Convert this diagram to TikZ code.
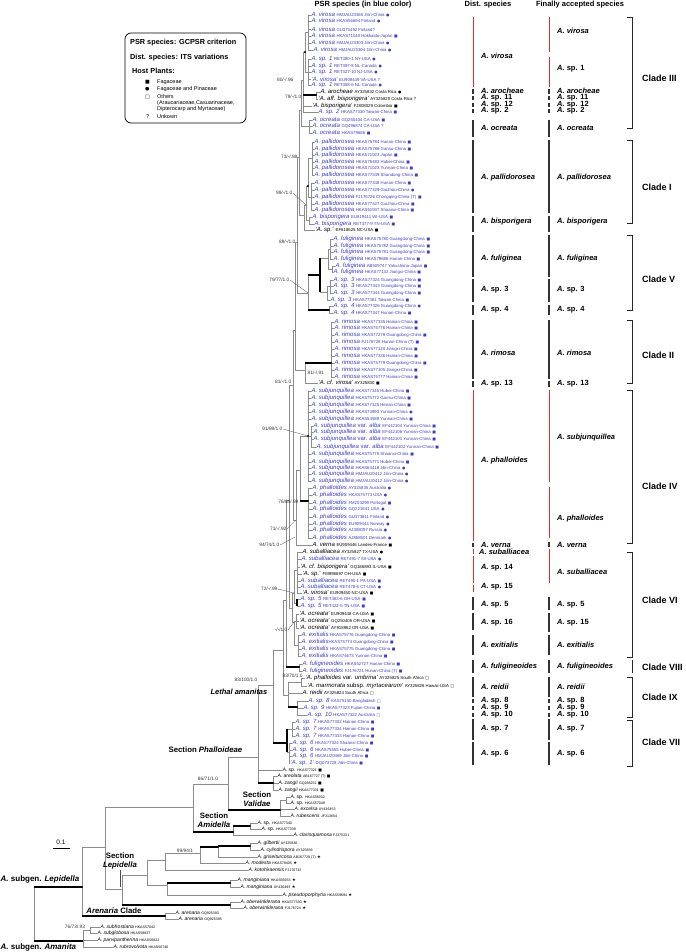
\documentclass[tikz,border=0pt]{standalone}
\usepackage{fontspec}
\setmainfont{Liberation Sans}
\newfontfamily\symf{DejaVu Sans}
\usetikzlibrary{positioning}
\definecolor{psrblue}{HTML}{3C3CC8}
\definecolor{branchgray}{HTML}{8C8C8C}
\definecolor{barred}{HTML}{E0302B}
\definecolor{bardark}{HTML}{333333}
\newcommand{\acc}[1]{{\fontsize{4.3}{4.3}\selectfont\upshape #1}}
\newcommand{\accs}[1]{{\fontsize{3.6}{3.6}\selectfont\upshape #1}}
\newcommand{\mfag}{{\symf\upshape\fontsize{3.8}{3.8}\selectfont ■}}
\newcommand{\mpin}{{\symf\upshape\fontsize{3.8}{3.8}\selectfont ●}}
\newcommand{\moth}{{\symf\upshape\fontsize{3.8}{3.8}\selectfont □}}
\newcommand{\mstar}{{\symf\upshape\fontsize{4.2}{4.2}\selectfont ★}}
\newcommand{\lmark}[1]{{\symf\fontsize{5}{5}\selectfont #1}}

\begin{document}
\begin{tikzpicture}[x=1pt, y=-1pt,
    br/.style={draw=branchgray, line width=0.5pt},
    tk/.style={draw=black, line width=1.5pt},
    ld/.style={draw=black!70, line width=0.3pt},
    tipb/.style={anchor=west, inner sep=0.3pt, text=psrblue, font=\fontsize{6}{6}\selectfont\itshape},
    tipk/.style={tipb, text=black},
    tipl/.style={anchor=west, inner sep=0.3pt, text=black, font=\fontsize{5}{5}\selectfont\itshape},
    bs/.style={inner sep=0.4pt, text=black!80, font=\fontsize{4.8}{4.8}\selectfont},
    sec/.style={inner sep=0.5pt, align=center, font=\fontsize{7.8}{8.5}\selectfont\bfseries},
    hdr/.style={inner sep=0pt, font=\fontsize{7.5}{7.5}\selectfont\bfseries},
    colk/.style={anchor=west, inner sep=0pt, font=\fontsize{7.5}{7.5}\selectfont\bfseries\itshape},
    clade/.style={anchor=west, inner sep=0pt, font=\fontsize{9}{9}\selectfont\bfseries},
    rbar/.style={draw=barred, line width=1pt},
    kbar/.style={draw=bardark, line width=1.1pt},
    brk/.style={draw=black!85, line width=0.9pt},
    legbox/.style={draw, line width=0.7pt, rounded corners=6pt, minimum width=121pt, minimum height=90pt},
    leg/.style={anchor=west, inner sep=0pt, font=\fontsize{5.5}{6}\selectfont},
    legh/.style={anchor=west, inner sep=0pt, font=\fontsize{7.3}{7.3}\selectfont\bfseries}
  ]
    \useasboundingbox (0,0) rectangle (685,952);

    % headers and legend
    \node[hdr] (hPSR) at (363,5) {PSR species (in blue color)};
    \node[hdr] (hDist) at (488,5) {Dist. species};
    \node[hdr] (hFin) at (580,5) {Finally accepted species};

    \node[legbox] (leg) at (185.5,78) {};
    \node[legh] (lh1) at (130,43) {PSR species: GCPSR criterion};
    \node[legh] (lh2) at (130,58) {Dist. species: ITS variations};
    \node[legh] (lh3) at (132,71) {Host Plants:};
    \node[leg] (lm1) at (145,82) {\lmark{■}};
    \node[leg] (lt1) at (157,82) {Fagaceae};
    \node[leg] (lm2) at (145,89) {\lmark{●}};
    \node[leg] (lt2) at (157,89) {Fagaceae and Pinaceae};
    \node[leg] (lm3) at (145,97) {\lmark{□}};
    \node[leg, align=left, anchor=north west] (lt3) at (157,94.5) {Others\\(Araucariaceae,Casuarinaceae,\\Dipterocarp and Myrtaceae)};
    \node[leg] (lm4) at (146,117) {?};
    \node[leg] (lt4) at (157,117) {Unkown};

    % tips: Clade III
    \node[tipb] (v1) at (311,15) {A. virosa \acc{HMJAU23365 Jilin-China} \mpin};
    \node[tipb] (v2) at (311,21) {A. virosa \acc{HKAS56694 Finland} \mpin};
    \node[tipb] (v3) at (311,29) {A. virosa \acc{GU373492 Finland?}};
    \node[tipb] (v4) at (311,36) {A. virosa \acc{HKAS71040 Hokkaido-Japan} \mfag};
    \node[tipb] (v5) at (311,43) {A. virosa \acc{HMJAU23303 Jilin-China} \mpin};
    \node[tipb] (v6) at (313,50) {A. virosa \acc{HMJAU23304 Jilin-China} \mpin};
    \node[tipb] (s1a) at (311,59) {A. sp. 1 \acc{RET480-1 NY-USA} \mpin};
    \node[tipb] (s1b) at (311,66) {A. sp. 1 \acc{RET397-8 NL-Canada} \mpin};
    \node[tipb] (s1c) at (311,72) {A. sp. 1 \acc{RET327-10 NJ-USA} \mpin};
    \node[tipb] (s1d) at (311,79) {‘A. virosa’ \acc{EU909449 VA-USA ?}};
    \node[tipb] (s1e) at (311,85) {A. sp. 1 \acc{RET368-6 NL-Canada} \mpin};
    \node[tipk] (aro) at (320,92) {A. arocheae \acc{AY325832 Costa Rica} \mpin};
    \node[tipk] (affb) at (318,99) {‘A. aff. bisporigera’ \acc{AY325820 Costa Rica ?}};
    \node[tipk] (bisq) at (312,106) {‘A. bisporigera’ \acc{FJ808029 Colombia} \mfag};
    \node[tipb] (sp2) at (318,112) {A. sp. 2 \acc{HKAS77330 Taiwan-China} \mfag};
    \node[tipb] (oc1) at (312,120) {A. ocreata \acc{GQ250404 CA-USA} \mfag};
    \node[tipb] (oc2) at (312,126) {A. ocreata \acc{GQ496874 CA-USA ?}};
    \node[tipb] (oc3) at (312,133) {A. ocreata \acc{HKAS79686} \mfag};

    % tips: Clade I
    \node[tipb] (pa1) at (314,142) {A. pallidorosea \acc{HKAS75784 Hunan-China} \mfag};
    \node[tipb] (pa2) at (314,149) {A. pallidorosea \acc{HKAS75786 Gansu-China} \mfag};
    \node[tipb] (pa3) at (314,155) {A. pallidorosea \acc{HKAS71023 Japan} \mfag};
    \node[tipb] (pa4) at (314,162) {A. pallidorosea \acc{HKAS75483 Hubei-China} \mfag};
    \node[tipb] (pa5) at (314,168) {A. pallidorosea \acc{HKAS71023 Yunnan-China} \mfag};
    \node[tipb] (pa6) at (314,175) {A. pallidorosea \acc{HKAS77349 Shandong-China} \mfag};
    \node[tipb] (pa7) at (314,183) {A. pallidorosea \acc{HKAS77348 Hunan-China} \mfag};
    \node[tipb] (pa8) at (314,190) {A. pallidorosea \acc{HKAS77329 Guizhou-China} \mpin};
    \node[tipb] (pa9) at (314,197) {A. pallidorosea \acc{FJ176726 Chongqing-China (T)} \mfag};
    \node[tipb] (pa10) at (314,204) {A. pallidorosea \acc{HKAS77327 Guizhou-China} \mfag};
    \node[tipb] (pa11) at (314,210) {A. pallidorosea \acc{HKAS61937 Shaanxi-China} \mfag};
    \node[tipb] (bi1) at (312,217) {A. bisporigera \acc{EU819411 WI-USA} \mfag};
    \node[tipb] (bi2) at (314,224) {A. bisporigera \acc{RET377-9 TN-USA} \mfag};
    \node[tipk] (spq) at (315,230) {‘A. sp.’ \acc{EF618625 NC-USA} \mfag};

    % tips: Clade V
    \node[tipb] (f1) at (333,239) {A. fuliginea \acc{HKAS75780 Guangdong-China} \mfag};
    \node[tipb] (f2) at (333,246) {A. fuliginea \acc{HKAS75782 Guangdong-China} \mfag};
    \node[tipb] (f3) at (333,252) {A. fuliginea \acc{HKAS75781 Guangdong-China} \mfag};
    \node[tipb] (f4) at (333,259) {A. fuliginea \acc{HKAS79686 Hunan-China} \mfag};
    \node[tipb] (f5) at (335,266) {A. fuliginea \acc{AB509747 Yakushima-Japan} \mfag};
    \node[tipb] (f6) at (333,272) {A. fuliginea \acc{HKAS77132 Jiangxi-China} \mfag};
    \node[tipb] (s3a) at (333,280) {A. sp. 3 \acc{HKAS77324 Guangdong-China} \mfag};
    \node[tipb] (s3b) at (333,286) {A. sp. 3 \acc{HKAS77343 Guangdong-China} \mfag};
    \node[tipb] (s3c) at (333,293) {A. sp. 3 \acc{HKAS77344 Guangdong-China} \mfag};
    \node[tipb] (s3d) at (330,300) {A. sp. 3 \acc{HKAS77381 Taiwan-China} \mfag};
    \node[tipb] (s4a) at (333,306) {A. sp. 4 \acc{HKAS77326 Guangdong-China} \mpin};
    \node[tipb] (s4b) at (333,313) {A. sp. 4 \acc{HKAS77347 Hunan-China} \mfag};

    % tips: Clade II
    \node[tipb] (r1) at (334,322) {A. rimosa \acc{HKAS77335 Hainan-China} \mfag};
    \node[tipb] (r2) at (334,328) {A. rimosa \acc{HKAS75776 Hainan-China} \mfag};
    \node[tipb] (r3) at (334,335) {A. rimosa \acc{HKAS77279 Guangdong-China} \mfag};
    \node[tipb] (r4) at (334,342) {A. rimosa \acc{FJ176728 Hunan-China (T)} \mfag};
    \node[tipb] (r5) at (334,349) {A. rimosa \acc{HKAS77120 Jiangxi-China} \mfag};
    \node[tipb] (r6) at (334,356) {A. rimosa \acc{HKAS77336 Hainan-China} \mfag};
    \node[tipb] (r7) at (334,363) {A. rimosa \acc{HKAS75779 Guangdong-China} \mfag};
    \node[tipb] (r8) at (334,370) {A. rimosa \acc{HKAS77105 Jiangxi-China} \mfag};
    \node[tipb] (r9) at (334,377) {A. rimosa \acc{HKAS75777 Hainan-China} \mfag};
    \node[tipk] (cfv) at (318,383) {‘A. cf. virosa’ \acc{AY325830} \mfag};

    % tips: Clade IV
    \node[tipb] (sj1) at (311,391) {A. subjunquillea \acc{HKAS77345 Hubei-China} \mfag};
    \node[tipb] (sj2) at (311,398) {A. subjunquillea \acc{HKAS75772 Gansu-China} \mfag};
    \node[tipb] (sj3) at (311,405) {A. subjunquillea \acc{HKAS77325 Henan-China} \mfag};
    \node[tipb] (sj4) at (311,412) {A. subjunquillea \acc{HKAS74993 Yunnan-China} \mpin};
    \node[tipb] (sj5) at (311,419) {A. subjunquillea \acc{HKAS54589 Yunnan-China} \mfag};
    \node[tipb] (al1) at (313,426) {A. subjunquillea \textup{var.} alba \acc{EF442104 Yunnan-China} \mfag};
    \node[tipb] (al2) at (313,432) {A. subjunquillea \textup{var.} alba \acc{EF442106 Yunnan-China} \mfag};
    \node[tipb] (al3) at (313,439) {A. subjunquillea \textup{var.} alba \acc{EF442101 Yunnan-China} \mfag};
    \node[tipb] (al4) at (316,447) {A. subjunquillea \textup{var.} alba \acc{EF442102 Yunnan-China} \mfag};
    \node[tipb] (sj6) at (311,454) {A. subjunquillea \acc{HKAS75770 Shaanxi-China} \mfag};
    \node[tipb] (sj7) at (311,462) {A. subjunquillea \acc{HKAS75771 Hubei-China} \mfag};
    \node[tipb] (sj8) at (311,468) {A. subjunquillea \acc{HKAS63418 Jilin-China} \mpin};
    \node[tipb] (sj9) at (311,474) {A. subjunquillea \acc{HMJAU20412 Jilin-China} \mpin};
    \node[tipb] (sj10) at (311,481) {A. subjunquillea \acc{HMJAU20412 Jilin-China} \mpin};
    \node[tipb] (ph1) at (312,488) {A. phalloides \acc{AY325835 Australia} \mpin};
    \node[tipb] (ph2) at (312,495) {A. phalloides \acc{HKAS75773 USA} \mpin};
    \node[tipb] (ph3) at (312,503) {A. phalloides \acc{FM203299 Portugal} \mfag};
    \node[tipb] (ph4) at (312,509) {A. phalloides \acc{GQ221641 USA} \mpin};
    \node[tipb] (ph5) at (312,517) {A. phalloides \acc{GU373811 Finland} \mpin};
    \node[tipb] (ph6) at (312,524) {A. phalloides \acc{EU909443 Norway} \mpin};
    \node[tipb] (ph7) at (312,530) {A. phalloides \acc{AJ308097 Russia} \mpin};
    \node[tipb] (ph8) at (312,538) {A. phalloides \acc{AJ858501 Denmark} \mpin};
    \node[tipk] (ver) at (312,545) {A. verna \acc{EU909446 Landes-France} \mfag};

    % tips: Clade VI
    \node[tipk] (sa1) at (302,552) {A. suballiacea \acc{AY325827 TX-USA} \mpin};
    \node[tipb] (sa2) at (301,559) {A. suballiacea \acc{RET491-7 MI-USA} \mpin};
    \node[tipk] (cfb) at (300,567) {‘A. cf. bisporigera’ \acc{GQ186893 IL-USA} \mfag};
    \node[tipk] (spq2) at (302,574) {‘A. sp.’ \acc{FM998697 OH-USA} \mfag};
    \node[tipb] (sa3) at (300,581) {A. suballiacea \acc{RET490-1 PA-USA} \mfag};
    \node[tipb] (sa4) at (300,587) {A. suballiacea \acc{RET478-6 CT-USA} \mpin};
    \node[tipk] (vq) at (302,593) {‘A. virosa’ \acc{EU909450 NC-USA} \mfag};
    \node[tipb] (s5a) at (300,599) {A. sp. 5 \acc{RET483-6 OH-USA} \mfag};
    \node[tipb] (s5b) at (300,606) {A. sp. 5 \acc{RET422-5 TN-USA} \mfag};
    \node[tipk] (oq1) at (299,614) {‘A. ocreata’ \acc{EU909448 CA-USA} \mfag};
    \node[tipk] (oq2) at (299,621) {‘A. ocreata’ \acc{GQ250405 OR-USA} \mfag};
    \node[tipk] (oq3) at (299,628) {‘A. ocreata’ \acc{AY918962 OR-USA} \mfag};
    \node[tipb] (ex1) at (301,635) {A. exitialis \acc{HKAS75776 Guangdong-China} \mfag};
    \node[tipb] (ex2) at (301,642) {A. exitialis\acc{HKAS75774 Guangdong-China} \mfag};
    \node[tipb] (ex3) at (301,649) {A. exitialis \acc{HKAS75775 Guangdong-China} \mfag};
    \node[tipb] (ex4) at (301,656) {A. exitialis \acc{HKAS74673 Yunnan-China} \mfag};

    % tips: Clades VIII, IX, VII
    \node[tipb] (fu1) at (302,664) {A. fuligineoides \acc{HKAS52727 Hunan-China} \mfag};
    \node[tipb] (fu2) at (302,671) {A. fuligineoides \acc{FJ176721 Hunan-China (T)} \mfag};
    \node[tipk] (um) at (305,678) {‘A. phalloides \textup{var.} umbrina’ \acc{AY325825 South Africa} \moth};
    \node[tipk] (mar) at (307,686) {‘A. marmorata \textup{subsp.} myrtacearum’ \acc{AY325826 Hawaii-USA} \moth};
    \node[tipk] (rei) at (302,693) {A. reidii \acc{AY325824 South Africa} \moth};
    \node[tipb] (s8) at (308,701) {A. sp. 8 \acc{KAS75150 Bangladesh} \moth};
    \node[tipb] (s9) at (303,708) {A. sp. 9 \acc{HKAS77323 Fujian-China} \mfag};
    \node[tipb] (s10) at (307,715) {A. sp. 10 \acc{HKAS77322 Australia} \moth};
    \node[tipb] (s7a) at (295,722) {A. sp. 7 \acc{HKAS77332 Hainan-China} \mfag};
    \node[tipb] (s7b) at (295,729) {A. sp. 7 \acc{HKAS77334 Hainan-China} \mfag};
    \node[tipb] (s7c) at (295,736) {A. sp. 7 \acc{HKAS77333 Hainan-China} \mfag};
    \node[tipb] (s6a) at (292,743) {A. sp. 6 \acc{HKAS77324 Shaanxi-China} \mfag};
    \node[tipb] (s6b) at (292,750) {A. sp. 6 \acc{HKAS75555 Hubei-China} \mfag};
    \node[tipb] (s6c) at (292,756) {A. sp. 6 \acc{HMJAU20469 Jilin-China} \mfag};
    \node[tipb] (s1q) at (290,763) {‘A. sp. 1’ \acc{DQ073728 Jilin-China} \mfag};

    % tips: outside lethal amanitas
    \node[tipl] (spH) at (282,770) {A. \textup{sp.} \accs{HKAS77321} \mfag};
    \node[tipl] (ar) at (277,776) {A. areolata \accs{AB167727 (T)} \mfag};
    \node[tipl] (zg1) at (278,783) {A. zangii \accs{GQ268251} \mfag};
    \node[tipl] (zg2) at (278,790) {A. zangii \accs{HKAS77331} \mfag};
    \node[tipl] (vp1) at (290,797) {A. \textup{sp.} \accs{HKAS56032}};
    \node[tipl] (vp2) at (290,803) {A. \textup{sp.} \accs{HKAS57049}};
    \node[tipl] (exc) at (294,809) {A. excelsa \accs{AY436453}};
    \node[tipl] (rub) at (290,816) {A. rubescens \accs{JF313654}};
    \node[tipl] (am1) at (257,823) {A. \textup{sp.} \accs{HKAS77340}};
    \node[tipl] (am2) at (261,829) {A. \textup{sp.} \accs{HKAS77339}};
    \node[tipl] (cla) at (293,835) {A. clarisquamosa \accs{FJ375331}};
    \node[tipl] (gil) at (257,843) {A. gilbertii \accs{AY325836}};
    \node[tipl] (cyl) at (260,850) {A. cylindrispora \accs{AY325839}};
    \node[tipl] (gri) at (257,857) {A. griseiturcosa \accs{AB167729 (T)} \mstar};
    \node[tipl] (mod) at (245,863) {A. modesta \accs{HKAS79405} \mstar};
    \node[tipl] (kot) at (248,870) {A. kotohiraensis \accs{FJ176732}};
    \node[tipl] (mg1) at (237,880) {A. manginiana \accs{HKAS56933} \mstar};
    \node[tipl] (mg2) at (240,887) {A. manginiana \accs{AY436493} \mstar};
    \node[tipl] (pse) at (282,895) {A. pseudoporphyria \accs{HKAS59694} \mstar};
    \node[tipl] (ob1) at (240,902) {A. oberwinklerana \accs{HKAS77330} \mstar};
    \node[tipl] (ob2) at (243,908) {A. oberwinklerana \accs{FJ176724} \mstar};
    \node[tipl] (are1) at (175,913) {A. arenaria \accs{GQ925393}};
    \node[tipl] (are2) at (178,919) {A. arenaria \accs{GQ925395}};
    \node[tipl] (sf) at (100,927) {A. subfrostiana \accs{HKAS57042}};
    \node[tipl] (sgl) at (97,933) {A. subglobosa \accs{HKAS58837}};
    \node[tipl] (pp) at (97,940) {A. parvipantherina \accs{HKAS56822}};
    \node[tipl] (rv) at (113,947) {A. rubrovolvata \accs{HKAS56746}};

    % internal nodes
    \coordinate (nvir) at (308,32);
    \coordinate (nsp1) at (308,72);
    \coordinate (nvs) at (305,52);
    \coordinate (naro) at (316,95);
    \coordinate (nIIIa) at (303,80);
    \coordinate (noc) at (309,126);
    \coordinate (nIII) at (301,110);
    \coordinate (npaA) at (312,158);
    \coordinate (npaB) at (311,197);
    \coordinate (npa) at (308,186);
    \coordinate (nbi) at (309,220);
    \coordinate (nI) at (306,205);
    \coordinate (nIs) at (304,215);
    \coordinate (nIIII) at (299,157);
    \coordinate (nf1) at (330,249);
    \coordinate (nf2) at (332,269);
    \coordinate (nf) at (328,258);
    \coordinate (ns3a) at (330,286);
    \coordinate (ns3) at (327,292);
    \coordinate (nfs) at (320,275);
    \coordinate (ns4) at (329,310);
    \coordinate (nV) at (308,293);
    \coordinate (bk7) at (297,242);
    \coordinate (nr) at (331,363);
    \coordinate (nII) at (305,370);
    \coordinate (bk6) at (295,330);
    \coordinate (nal) at (311,436);
    \coordinate (nsj) at (308,436);
    \coordinate (nph) at (308,501);
    \coordinate (nIVa) at (300,470);
    \coordinate (nIV) at (296,520);
    \coordinate (bk5) at (293,385);
    \coordinate (nsa) at (297,570);
    \coordinate (ns5) at (297,603);
    \coordinate (noq) at (296,621);
    \coordinate (nex) at (298,645);
    \coordinate (nVIa) at (294,593);
    \coordinate (nVIb) at (294,622);
    \coordinate (nVI) at (292,608);
    \coordinate (bk4) at (289,500);
    \coordinate (nfu) at (299,667);
    \coordinate (bk3) at (286,600);
    \coordinate (num) at (301,682);
    \coordinate (n89) at (297,707);
    \coordinate (nIX) at (288,695);
    \coordinate (bk2) at (283,650);
    \coordinate (ns7) at (292,729);
    \coordinate (ns6) at (289,752);
    \coordinate (nVII) at (287,743);
    \coordinate (Lt) at (273,685);
    \coordinate (nAZ) at (273,783);
    \coordinate (P) at (258,757);
    \coordinate (nvp) at (286,800);
    \coordinate (nVal) at (280,810);
    \coordinate (nPV) at (228,784);
    \coordinate (nam2) at (250,826);
    \coordinate (nAm) at (233,832);
    \coordinate (nA) at (193,807);
    \coordinate (ngc) at (250,846);
    \coordinate (nU4) at (218,847);
    \coordinate (nU3) at (200,853);
    \coordinate (nU2) at (165,860);
    \coordinate (nmg) at (230,883);
    \coordinate (nMp) at (167,885);
    \coordinate (nU1) at (147,875);
    \coordinate (nob) at (230,905);
    \coordinate (nSL) at (122,889);
    \coordinate (nB) at (105,847);
    \coordinate (nAr) at (165,916);
    \coordinate (nLS) at (82,887);
    \coordinate (nsg) at (90,930);
    \coordinate (nAm2) at (83,941);
    \coordinate (root) at (34,914);

    % branches
    \draw[br] (nvir) |- (v1.west) (nvir) |- (v2.west) (nvir) |- (v3.west)
      (nvir) |- (v4.west) (nvir) |- (v5.west) (nvir) |- (v6.west);
    \draw[br] (nsp1) |- (s1a.west) (nsp1) |- (s1b.west) (nsp1) |- (s1c.west)
      (nsp1) |- (s1d.west) (nsp1) |- (s1e.west);
    \draw[br] (nvs) |- (nvir) (nvs) |- (nsp1);
    \draw[br] (naro) |- (aro.west) (naro) |- (affb.west);
    \draw[br] (nIIIa) |- (nvs) (nIIIa) |- (naro) (nIIIa) |- (bisq.west) (nIIIa) |- (sp2.west);
    \draw[br] (noc) |- (oc1.west) (noc) |- (oc2.west) (noc) |- (oc3.west);
    \draw[br] (nIII) |- (nIIIa) (nIII) |- (noc);
    \draw[br] (npaA) |- (pa1.west) (npaA) |- (pa2.west) (npaA) |- (pa3.west)
      (npaA) |- (pa4.west) (npaA) |- (pa5.west) (npaA) |- (pa6.west);
    \draw[br] (npaB) |- (pa7.west) (npaB) |- (pa8.west) (npaB) |- (pa9.west)
      (npaB) |- (pa10.west) (npaB) |- (pa11.west);
    \draw[br] (npa) |- (npaA) (npa) |- (npaB);
    \draw[br] (nbi) |- (bi1.west) (nbi) |- (bi2.west);
    \draw[br] (nI) |- (npa) (nI) |- (nbi);
    \draw[br] (nIs) |- (nI) (nIs) |- (spq.west);
    \draw[br] (nIIII) |- (nIII) (nIIII) |- (nIs);
    \draw[br] (nf1) |- (f1.west) (nf1) |- (f2.west) (nf1) |- (f3.west) (nf1) |- (f4.west);
    \draw[br] (nf2) |- (f5.west) (nf2) |- (f6.west);
    \draw[br] (nf) |- (nf1) (nf) |- (nf2);
    \draw[br] (ns3a) |- (s3a.west) (ns3a) |- (s3b.west) (ns3a) |- (s3c.west);
    \draw[br] (ns3) |- (ns3a) (ns3) |- (s3d.west);
    \draw[br] (nfs) |- (nf) (nfs) |- (ns3);
    \draw[br] (ns4) |- (s4a.west) (ns4) |- (s4b.west);
    \draw[br] (nV) |- (nfs) (nV) |- (ns4);
    \draw[br] (bk7) |- (nIIII) (bk7) |- (nV);
    \draw[br] (nr) |- (r1.west) (nr) |- (r2.west) (nr) |- (r3.west) (nr) |- (r4.west)
      (nr) |- (r5.west) (nr) |- (r6.west) (nr) |- (r7.west) (nr) |- (r8.west) (nr) |- (r9.west);
    \draw[br] (nII) |- (nr) (nII) |- (cfv.west);
    \draw[br] (bk6) |- (bk7) (bk6) |- (nII);
    \draw[br] (nal) |- (al1.west) (nal) |- (al2.west) (nal) |- (al3.west) (nal) |- (al4.west);
    \draw[br] (nsj) |- (sj1.west) (nsj) |- (sj2.west) (nsj) |- (sj3.west) (nsj) |- (sj4.west)
      (nsj) |- (sj5.west) (nsj) |- (nal) (nsj) |- (sj6.west) (nsj) |- (sj7.west)
      (nsj) |- (sj8.west) (nsj) |- (sj9.west) (nsj) |- (sj10.west);
    \draw[br] (nph) |- (ph1.west) (nph) |- (ph2.west) (nph) |- (ph3.west) (nph) |- (ph4.west)
      (nph) |- (ph5.west) (nph) |- (ph6.west) (nph) |- (ph7.west) (nph) |- (ph8.west);
    \draw[br] (nIVa) |- (nsj) (nIVa) |- (nph);
    \draw[br] (nIV) |- (nIVa) (nIV) |- (ver.west);
    \draw[br] (bk5) |- (bk6) (bk5) |- (nIV);
    \draw[br] (nsa) |- (sa1.west) (nsa) |- (sa2.west) (nsa) |- (cfb.west) (nsa) |- (spq2.west)
      (nsa) |- (sa3.west) (nsa) |- (sa4.west) (nsa) |- (vq.west);
    \draw[br] (ns5) |- (s5a.west) (ns5) |- (s5b.west);
    \draw[br] (noq) |- (oq1.west) (noq) |- (oq2.west) (noq) |- (oq3.west);
    \draw[br] (nex) |- (ex1.west) (nex) |- (ex2.west) (nex) |- (ex3.west) (nex) |- (ex4.west);
    \draw[br] (nVIa) |- (nsa) (nVIa) |- (ns5);
    \draw[br] (nVIb) |- (noq) (nVIb) |- (nex);
    \draw[br] (nVI) |- (nVIa) (nVI) |- (nVIb);
    \draw[br] (bk4) |- (bk5) (bk4) |- (nVI);
    \draw[br] (nfu) |- (fu1.west) (nfu) |- (fu2.west);
    \draw[br] (bk3) |- (bk4) (bk3) |- (nfu);
    \draw[br] (num) |- (um.west) (num) |- (mar.west);
    \draw[br] (n89) |- (s8.west) (n89) |- (s9.west) (n89) |- (s10.west);
    \draw[br] (nIX) |- (num) (nIX) |- (rei.west) (nIX) |- (n89);
    \draw[br] (bk2) |- (bk3) (bk2) |- (nIX);
    \draw[br] (ns7) |- (s7a.west) (ns7) |- (s7b.west) (ns7) |- (s7c.west);
    \draw[br] (ns6) |- (s6a.west) (ns6) |- (s6b.west) (ns6) |- (s6c.west) (ns6) |- (s1q.west);
    \draw[br] (nVII) |- (ns7) (nVII) |- (ns6);
    \draw[br] (Lt) |- (bk2) (Lt) |- (nVII);
    \draw[br] (nAZ) |- (ar.west) (nAZ) |- (zg1.west) (nAZ) |- (zg2.west);
    \draw[br] (P) |- (Lt) (P) |- (spH.west) (P) |- (nAZ);
    \draw[br] (nvp) |- (vp1.west) (nvp) |- (vp2.west);
    \draw[br] (nVal) |- (nvp) (nVal) |- (exc.west) (nVal) |- (rub.west);
    \draw[br] (nPV) |- (P) (nPV) |- (nVal);
    \draw[br] (nam2) |- (am1.west) (nam2) |- (am2.west);
    \draw[br] (nAm) |- (nam2) (nAm) |- (cla.west);
    \draw[br] (nA) |- (nPV) (nA) |- (nAm);
    \draw[br] (ngc) |- (gil.west) (ngc) |- (cyl.west);
    \draw[br] (nU4) |- (ngc) (nU4) |- (gri.west);
    \draw[br] (nU3) |- (nU4) (nU3) |- (mod.west);
    \draw[br] (nU2) |- (nU3) (nU2) |- (kot.west);
    \draw[br] (nmg) |- (mg1.west) (nmg) |- (mg2.west);
    \draw[br] (nMp) |- (nmg) (nMp) |- (pse.west);
    \draw[br] (nU1) |- (nU2) (nU1) |- (nMp);
    \draw[br] (nob) |- (ob1.west) (nob) |- (ob2.west);
    \draw[br] (nSL) |- (nU1) (nSL) |- (nob);
    \draw[br] (nB) |- (nA) (nB) |- (nSL);
    \draw[br] (nAr) |- (are1.west) (nAr) |- (are2.west);
    \draw[br] (nLS) |- (nB) (nLS) |- (nAr);
    \draw[br] (nsg) |- (sf.west) (nsg) |- (sgl.west);
    \draw[br] (nAm2) |- (nsg) (nAm2) |- (pp.west) (nAm2) |- (rv.west);
    \draw[br] (root) |- (nLS) (root) |- (nAm2);

    % thick branches
    \draw[tk] (nIIIa |- naro) -- (naro);
    \draw[tk] (nV |- nfs) -- (nfs);
    \draw[tk] (nfs |- nf) -- (nfs |- ns3);
    \draw[tk] (nV |- ns4) -- (ns4);
    \draw[tk] (nII |- nr) -- (nr);
    \draw[tk] (nIVa |- nph) -- (nph);
    \draw[tk] (ns5 |- s5a) -- (ns5 |- s5b);
    \draw[tk] (bk3 |- nfu) -- (nfu);
    \draw[tk] (nIX |- n89) -- (n89);
    \draw[tk] (Lt |- nVII) -- (nVII);
    \draw[tk] (nVII |- ns7) -- (nVII |- ns6);
    \draw[tk] (P |- nAZ) -- (nAZ);
    \draw[tk] (nPV |- nVal) -- (nVal);
    \draw[tk] (nA |- nAm) -- (nAm);
    \draw[tk] (nAm |- nam2) -- (nam2);
    \draw[tk] (nU3 |- nU4) -- (nU4);
    \draw[tk] (nU4 |- ngc) -- (ngc);
    \draw[tk] (nMp |- nmg) -- (nmg);
    \draw[tk] (nSL |- nob) -- (nob);
    \draw[tk] (nLS |- nAr) -- (nAr);
    \draw[tk] (root |- nLS) -- (nLS);
    \draw[tk] (root |- nAm2) -- (nAm2);
    \foreach \d in {nvs, naro, npa, nfs, ns4, nr, nph, nsj, ns5, nfu, n89, nVII, nAZ, nVal, nAm, nam2, ngc, nU4, nmg, nob, nAr, nLS}
      \fill (\d) circle (1.2);

    % support values
    \node[bs, anchor=east] (b1) at (294,80) {80/-/.96};
    \node[bs, anchor=east] (b2) at (302,97) {79/-/1.0};
    \node[bs, anchor=east] (b3) at (298,157) {73/-/.98};
    \node[bs, anchor=east] (b4) at (293,193) {99/-/1.0};
    \node[bs, anchor=east] (b5) at (296,242) {89/-/1.0};
    \node[bs, anchor=east] (b6) at (290,280) {79/77/1.0};
    \node[bs, anchor=west] (b7) at (307,373) {81/-/.91};
    \node[bs, anchor=east] (b8) at (292,382) {81/-/1.0};
    \node[bs, anchor=east] (b9) at (283,429) {91/99/1.0};
    \node[bs, anchor=east] (b10) at (299,502) {76/84/.99};
    \node[bs, anchor=east] (b11) at (287,529) {71/-/.92};
    \node[bs, anchor=east] (b12) at (280,545) {94/74/1.0};
    \node[bs, anchor=east] (b13) at (278,589) {72/-/.99};
    \node[bs, anchor=east] (b14) at (288,630) {-/-/1.0};
    \node[bs, anchor=west] (b15) at (282,676) {83/70/1.0};
    \node[bs, anchor=east] (b16) at (258,680) {83/100/1.0};
    \node[bs] (b17) at (208,779) {86/71/1.0};
    \node[bs] (b18) at (185,851) {99/94/1};
    \node[bs] (b19) at (75,927) {76/73/.93};
    \coordinate (l12) at (295,537);
    \draw[ld] (b4.east) -- (nI);
    \draw[ld] (b6.east) -- (nV);
    \draw[ld] (b9.east) -- (nsj);
    \draw[ld] (b11.east) -- (nIV);
    \draw[ld] (b12.east) -- (l12);
    \draw[ld] (b13.east) -- (nVIa);
    \draw[ld] (b14.east) -- (nVIb);

    % group labels
    \node[sec, anchor=east] (secP) at (243,750) {Section \textit{Phalloideae}};
    \node[sec, font=\fontsize{7.5}{7.5}\selectfont\bfseries\itshape] (leth) at (239,692) {Lethal amanitas};
    \node[sec] (secV) at (257,799) {Section\\\textit{Validae}};
    \node[sec] (secA) at (214,820) {Section\\\textit{Amidella}};
    \node[sec] (secL) at (120,861) {Section\\\textit{Lepidella}};
    \coordinate (lL) at (120,887);
    \draw[ld] (secL.south) -- (lL);
    \node[sec] (arcl) at (114,911) {\textit{Arenaria} Clade};
    \node[sec, anchor=west, font=\fontsize{8}{8}\selectfont\bfseries] (sgL) at (0,879) {\textit{A.} subgen. \textit{Lepidella}};
    \node[sec, anchor=west, font=\fontsize{8}{8}\selectfont\bfseries] (sgA) at (0,947) {\textit{A.} subgen. \textit{Amanita}};
    \node[bs, font=\fontsize{6.5}{6.5}\selectfont, text=black] (sbar) at (61,842) {0.1};
    \draw[line width=0.6pt] (53,848) -- (70,848);

    % Dist. species column
    \draw[rbar] (473,17) -- (473,87);
    \draw[kbar] (473,89) -- (473,94) (473,96) -- (473,100) (473,103) -- (473,107) (473,109) -- (473,113);
    \draw[kbar] (473,120) -- (473,137) (473,140) -- (473,213) (473,216) -- (473,232);
    \draw[kbar] (473,235) -- (473,277) (473,279) -- (473,302) (473,305) -- (473,315);
    \draw[kbar] (473,320) -- (473,379) (473,381) -- (473,387);
    \draw[rbar] (473,390) -- (473,541);
    \draw[kbar] (473,543) -- (473,547);
    \draw[rbar] (473,549) -- (473,554) (473,556) -- (473,583) (473,585) -- (473,592);
    \draw[kbar] (473,597) -- (473,610) (473,613) -- (473,630) (473,635) -- (473,655);
    \draw[kbar] (473,660) -- (473,673) (473,677) -- (473,697);
    \draw[kbar] (473,699) -- (473,703) (473,706) -- (473,710) (473,713) -- (473,717);
    \draw[kbar] (473,719) -- (473,740) (473,742) -- (473,765);
    \node[colk] (d1) at (481,56) {A. virosa};
    \node[colk] (d2) at (481,91) {A. arocheae};
    \node[colk] (d3) at (481,98) {A. \textup{sp. 11}};
    \node[colk] (d4) at (481,105) {A. \textup{sp. 12}};
    \node[colk] (d5) at (481,111) {A. \textup{sp. 2}};
    \node[colk] (d6) at (481,128) {A. ocreata};
    \node[colk] (d7) at (481,178) {A. pallidorosea};
    \node[colk] (d8) at (481,222) {A. bisporigera};
    \node[colk] (d9) at (481,259) {A. fuliginea};
    \node[colk] (d10) at (481,290) {A. \textup{sp. 3}};
    \node[colk] (d11) at (481,310) {A. \textup{sp. 4}};
    \node[colk] (d12) at (481,353) {A. rimosa};
    \node[colk] (d13) at (481,384) {A. \textup{sp. 13}};
    \node[colk] (d14) at (481,461) {A. phalloides};
    \node[colk] (d15) at (481,545) {A. verna};
    \node[colk] (d16) at (479,552) {A. suballiacea};
    \node[colk] (d17) at (481,568) {A. \textup{sp. 14}};
    \node[colk] (d18) at (481,587) {A. \textup{sp. 15}};
    \node[colk] (d19) at (481,605) {A. \textup{sp. 5}};
    \node[colk] (d20) at (481,623) {A. \textup{sp. 16}};
    \node[colk] (d21) at (481,645) {A. exitialis};
    \node[colk] (d22) at (481,667) {A. fuligineoides};
    \node[colk] (d23) at (481,687) {A. reidii};
    \node[colk] (d24) at (481,701) {A. \textup{sp. 8}};
    \node[colk] (d25) at (481,708) {A. \textup{sp. 9}};
    \node[colk] (d26) at (481,715) {A. \textup{sp. 10}};
    \node[colk] (d27) at (481,729) {A. \textup{sp. 7}};
    \node[colk] (d28) at (481,754) {A. \textup{sp. 6}};

    % Finally accepted species column
    \draw[rbar] (549,17) -- (549,52) (549,57) -- (549,87);
    \draw[kbar] (549,89) -- (549,94) (549,96) -- (549,100) (549,103) -- (549,107) (549,109) -- (549,113);
    \draw[kbar] (549,120) -- (549,137) (549,140) -- (549,213) (549,216) -- (549,232);
    \draw[kbar] (549,235) -- (549,277) (549,279) -- (549,302) (549,305) -- (549,315);
    \draw[kbar] (549,320) -- (549,379) (549,381) -- (549,387);
    \draw[rbar] (549,390) -- (549,482) (549,487) -- (549,538);
    \draw[kbar] (549,542) -- (549,547);
    \draw[rbar] (549,549) -- (549,583);
    \draw[kbar] (549,597) -- (549,610) (549,613) -- (549,632) (549,635) -- (549,655);
    \draw[kbar] (549,660) -- (549,673) (549,677) -- (549,697);
    \draw[kbar] (549,699) -- (549,703) (549,706) -- (549,710) (549,713) -- (549,717);
    \draw[kbar] (549,719) -- (549,740) (549,742) -- (549,765);
    \node[colk] (a1) at (557,31) {A. virosa};
    \node[colk] (a2) at (557,69) {A. \textup{sp. 1}};
    \node[colk] (a3) at (557,91) {A. arocheae};
    \node[colk] (a4) at (557,98) {A. \textup{sp. 11}};
    \node[colk] (a5) at (557,105) {A. \textup{sp. 12}};
    \node[colk] (a6) at (557,111) {A. \textup{sp. 2}};
    \node[colk] (a7) at (557,128) {A. ocreata};
    \node[colk] (a8) at (557,178) {A. pallidorosea};
    \node[colk] (a9) at (557,222) {A. bisporigera};
    \node[colk] (a10) at (557,259) {A. fuliginea};
    \node[colk] (a11) at (557,290) {A. \textup{sp. 3}};
    \node[colk] (a12) at (557,310) {A. \textup{sp. 4}};
    \node[colk] (a13) at (557,353) {A. rimosa};
    \node[colk] (a14) at (557,384) {A. \textup{sp. 13}};
    \node[colk] (a15) at (557,438) {A. subjunquillea};
    \node[colk] (a16) at (557,519) {A. phalloides};
    \node[colk] (a17) at (557,545) {A. verna};
    \node[colk] (a18) at (557,572) {A. suballiacea};
    \node[colk] (a19) at (557,605) {A. \textup{sp. 5}};
    \node[colk] (a20) at (557,623) {A. \textup{sp. 15}};
    \node[colk] (a21) at (557,645) {A. exitialis};
    \node[colk] (a22) at (557,667) {A. fuligineoides};
    \node[colk] (a23) at (557,687) {A. reidii};
    \node[colk] (a24) at (557,701) {A. \textup{sp. 8}};
    \node[colk] (a25) at (557,708) {A. \textup{sp. 9}};
    \node[colk] (a26) at (557,715) {A. \textup{sp. 10}};
    \node[colk] (a27) at (557,729) {A. \textup{sp. 7}};
    \node[colk] (a28) at (557,754) {A. \textup{sp. 6}};

    % clade brackets
    \draw[brk] (627,17) -- (632,17) -- (632,128) -- (627,128);
    \draw[brk] (627,140) -- (632,140) -- (632,223) -- (627,223);
    \draw[brk] (627,235) -- (632,235) -- (632,310) -- (627,310);
    \draw[brk] (627,320) -- (632,320) -- (632,383) -- (627,383);
    \draw[brk] (627,390) -- (632,390) -- (632,543) -- (627,543);
    \draw[brk] (627,552) -- (632,552) -- (632,657) -- (627,657);
    \draw[brk] (632,660) -- (632,673);
    \draw[brk] (627,677) -- (632,677) -- (632,717) -- (627,717);
    \draw[brk] (627,720) -- (632,720) -- (632,766) -- (627,766);
    \node[clade] (cIII) at (642,78) {Clade III};
    \node[clade] (cI) at (642,187) {Clade I};
    \node[clade] (cV) at (642,279) {Clade V};
    \node[clade] (cII) at (642,355) {Clade II};
    \node[clade] (cIV) at (642,486) {Clade IV};
    \node[clade] (cVI) at (642,600) {Clade VI};
    \node[clade] (cVIII) at (642,667) {Clade VIII};
    \node[clade] (cIX) at (642,697) {Clade IX};
    \node[clade] (cVII) at (642,742) {Clade VII};
\end{tikzpicture}
\end{document}
